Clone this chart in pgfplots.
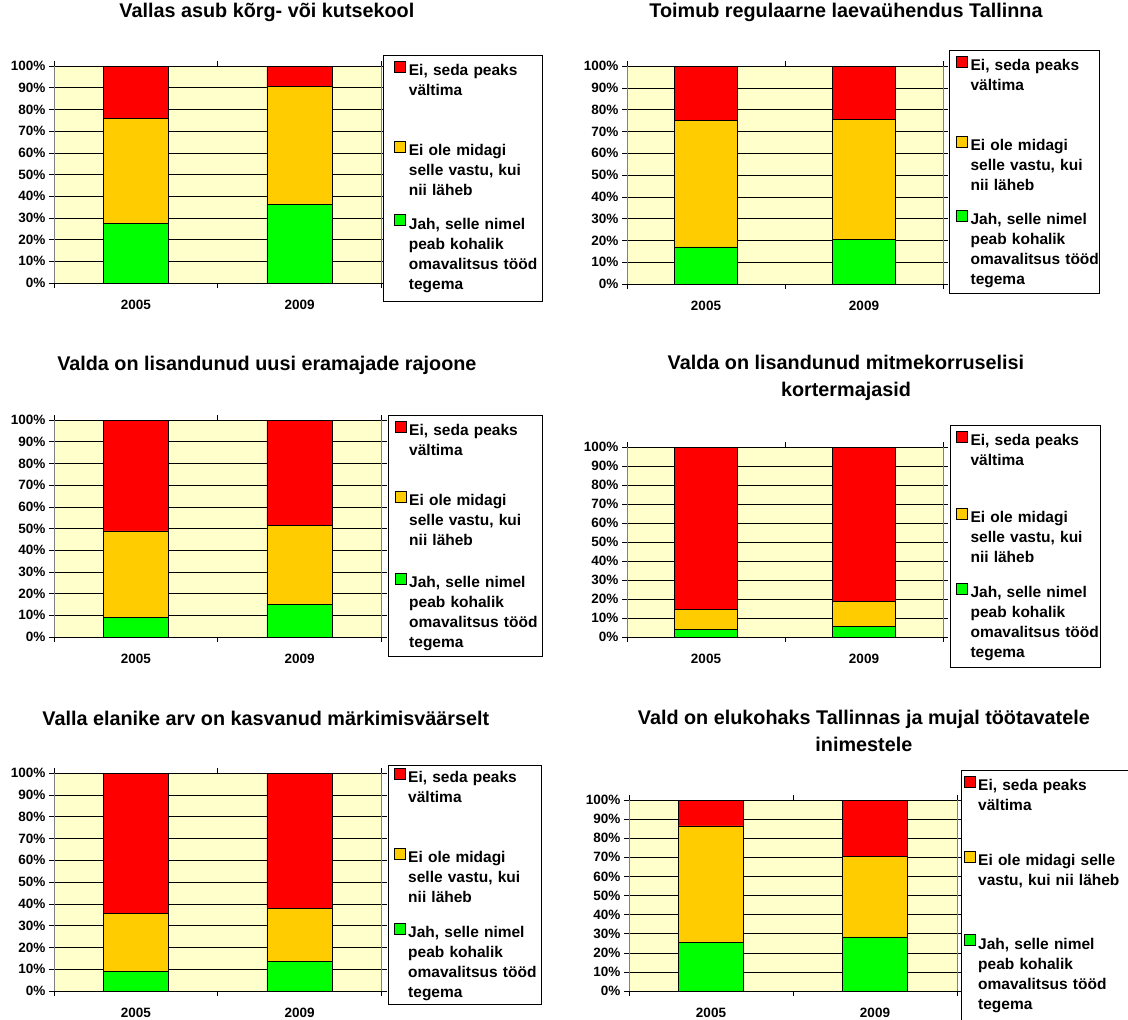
\documentclass[border=0pt]{standalone}
\usepackage{pgfplots}
\pgfplotsset{compat=1.18}
\usepackage{fontspec}
\setmainfont{Liberation Sans}
\definecolor{bgyel}{HTML}{FFFFCC}
\definecolor{cred}{HTML}{FF0000}
\definecolor{corange}{HTML}{FFCC00}
\definecolor{cgreen}{HTML}{00FF00}
\newcommand\titlefont{\fontsize{19.8}{27}\selectfont\bfseries}
\newcommand\legfont{\fontsize{15.5}{20}\selectfont\bfseries}
\newcommand\tickfont{\fontsize{13.5}{16}\selectfont\bfseries}
\newcommand\legdp[1]{\rule[-#1]{0pt}{#1}}
\newcommand\legR[1]{Ei, seda peaks\\vältima\legdp{#1}}
\newcommand\legO[1]{Ei ole midagi\\\mbox{selle vastu, kui}\\nii läheb\legdp{#1}}
\newcommand\legOw[1]{\mbox{Ei ole midagi selle}\\\mbox{vastu, kui nii läheb}\legdp{#1}}
\newcommand\legG[1]{\mbox{Jah, selle nimel}\\peab kohalik\\\mbox{omavalitsus tööd}\\tegema\legdp{#1}}
\pgfplotsset{
  panel/.style={
    scale only axis, ybar stacked, bar width=0.4,
    xmin=0.5, xmax=2.5, ymin=0, ymax=100,
    xtick={0.5,1.5,2.5}, x tick label as interval, xticklabels={2005,2009,},
    ytick={0,10,...,100},
    yticklabels={0\%,10\%,20\%,30\%,40\%,50\%,60\%,70\%,80\%,90\%,100\%},
    tick label style={font=\tickfont},
    xticklabel style={yshift=-8.5pt},
    tick align=outside, major tick length=5pt,
    tick style={black, line width=0.6pt},
    axis background/.style={fill=bgyel},
    separate axis lines,
    x axis line style={black, line width=0.7pt},
    y axis line style={gray, line width=0.7pt},
    ymajorgrids, grid style={black, line width=0.6pt},
    reverse legend,
    title style={font=\titlefont, align=center, anchor=center},
    legend style={anchor=north west, draw=black, line width=0.6pt, fill=white,
      inner xsep=0pt, row sep=15pt, column sep=3pt, font=\legfont,
      cells={anchor=base west},
      nodes={inner sep=0pt, text depth=, text height=, align=left}},
  },
  sq/.style={legend image code/.code={\path (0pt,0pt); \draw[##1, line width=0.5pt] (\legpad,3.5pt) rectangle ++(11pt,11pt);}},
  pg/.style={fill=cgreen, draw=black, line width=0.7pt, sq},
  po/.style={fill=corange, draw=black, line width=0.7pt, sq},
  pr/.style={fill=cred, draw=black, line width=0.7pt, sq},
}
\begin{document}
\begin{tikzpicture}
\useasboundingbox (0,0) rectangle (1128pt,-1020pt);
% Panel 1
\def\legpad{10.7pt}
\begin{axis}[panel, at={(54pt,-283pt)}, anchor=south west, width=327.5pt, height=217pt,
  title={Vallas asub kõrg- või kutsekool}, title style={at={(0.650,1.221)}},
  legend style={at={(1.0055,1.0507)}, inner ysep=5.5pt, nodes={text width=133.7pt}}]
\addplot[pg] coordinates {(1,27.3) (2,36.2)};
\addlegendentry{\legG{6.5pt}}
\addplot[po] coordinates {(1,48.5) (2,54.3)};
\addlegendentry{\legO{3.5pt}}
\addplot[pr] coordinates {(1,24.2) (2,9.5)};
\addlegendentry{\legR{30.5pt}}
\end{axis}
% Panel 2
\def\legpad{6.7pt}
\begin{axis}[panel, at={(627pt,-284pt)}, anchor=south west, width=316pt, height=218pt,
  title={Toimub regulaarne laevaühendus Tallinna}, title style={at={(0.693,1.220)}},
  legend style={at={(1.019,1.0734)}, inner ysep=5.5pt, nodes={text width=128.3pt}}]
\addplot[pg] coordinates {(1,17.0) (2,20.5)};
\addlegendentry{\legG{3.2pt}}
\addplot[po] coordinates {(1,57.9) (2,55.0)};
\addlegendentry{\legO{3.8pt}}
\addplot[pr] coordinates {(1,25.1) (2,24.5)};
\addlegendentry{\legR{30.5pt}}
\end{axis}
% Panel 3
\def\legpad{6.6pt}
\begin{axis}[panel, at={(54pt,-637pt)}, anchor=south west, width=327.5pt, height=217pt,
  title={Valda on lisandunud uusi eramajade rajoone}, title style={at={(0.650,1.226)}},
  legend style={at={(1.019,1.023)}, inner ysep=5.5pt, nodes={text width=133.4pt}}]
\addplot[pg] coordinates {(1,8.9) (2,14.9)};
\addlegendentry{\legG{0pt}}
\addplot[po] coordinates {(1,40.0) (2,36.5)};
\addlegendentry{\legO{12.2pt}}
\addplot[pr] coordinates {(1,51.1) (2,48.6)};
\addlegendentry{\legR{20.5pt}}
\end{axis}
% Panel 4
\def\legpad{5.7pt}
\begin{axis}[panel, at={(627pt,-637pt)}, anchor=south west, width=316pt, height=190pt,
  title={Valda on lisandunud mitmekorruselisi\\kortermajasid}, title style={at={(0.693,1.332)}},
  legend style={at={(1.022,1.1158)}, inner ysep=5.5pt, nodes={text width=129.3pt}}]
\addplot[pg] coordinates {(1,4.0) (2,5.6)};
\addlegendentry{\legG{4.5pt}}
\addplot[po] coordinates {(1,10.7) (2,13.3)};
\addlegendentry{\legO{5.5pt}}
\addplot[pr] coordinates {(1,85.3) (2,81.1)};
\addlegendentry{\legR{27.2pt}}
\end{axis}
% Panel 5
\def\legpad{5.6pt}
\begin{axis}[panel, at={(54pt,-991pt)}, anchor=south west, width=327.5pt, height=218pt,
  title={Valla elanike arv on kasvanud märkimisväärselt}, title style={at={(0.647,1.225)}},
  legend style={at={(1.019,1.0367)}, inner ysep=2.2pt, nodes={text width=133pt}}]
\addplot[pg] coordinates {(1,8.9) (2,13.7)};
\addlegendentry{\legG{4.1pt}}
\addplot[po] coordinates {(1,26.8) (2,24.2)};
\addlegendentry{\legO{5.5pt}}
\addplot[pr] coordinates {(1,64.3) (2,62.1)};
\addlegendentry{\legR{30.5pt}}
\end{axis}
% Panel 6
\def\legpad{2.6pt}
\begin{axis}[panel, at={(629pt,-991pt)}, anchor=south west, width=328pt, height=191pt,
  title={Vald on elukohaks Tallinnas ja mujal töötavatele\\inimestele}, title style={at={(0.716,1.330)}},
  legend style={at={(1.0113,1.157)}, inner ysep=5.5pt, nodes={text width=175pt}}]
\addplot[pg] coordinates {(1,25.3) (2,28.3)};
\addlegendentry{\legG{10pt}}
\addplot[po] coordinates {(1,61.1) (2,42.0)};
\addlegendentry{\legOw{33.5pt}}
\addplot[pr] coordinates {(1,13.6) (2,29.7)};
\addlegendentry{\legR{25.5pt}}
\end{axis}
\end{tikzpicture}
\end{document}
